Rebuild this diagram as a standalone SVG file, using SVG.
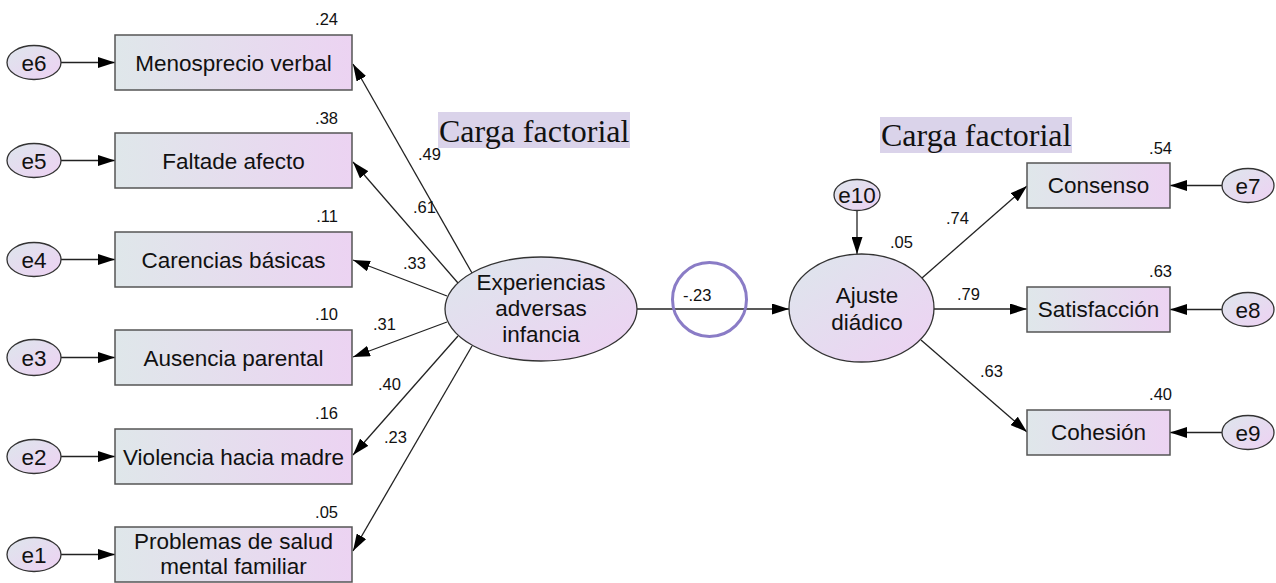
<svg xmlns="http://www.w3.org/2000/svg" width="1276" height="583" viewBox="0 0 1276 583">
<defs>
<linearGradient id="gBox" x1="0" y1="0" x2="1" y2="0">
<stop offset="0" stop-color="#dfe7ea"/>
<stop offset="1" stop-color="#ecd3f2"/>
</linearGradient>
<linearGradient id="gEll" x1="0" y1="0" x2="1" y2="1">
<stop offset="0" stop-color="#dde6ec"/>
<stop offset="1" stop-color="#eed1f3"/>
</linearGradient>
<marker id="arr" markerUnits="userSpaceOnUse" markerWidth="18" markerHeight="11" refX="17" refY="5.5" orient="auto">
<path d="M0,0 L17,5.5 L0,11 z" fill="#000"/>
</marker>
<style>
.box{fill:url(#gBox);stroke:#555;stroke-width:1.5}
.ell{fill:url(#gEll);stroke:#333;stroke-width:1.3}
.lbl{font-family:"Liberation Sans",Arial,sans-serif;font-size:22.5px;fill:#111;text-anchor:middle}
.num{font-family:"Liberation Sans",Arial,sans-serif;font-size:16.5px;fill:#111}
.con line{stroke:#222;stroke-width:1.3;marker-end:url(#arr)}
.cf{font-family:"Liberation Serif","Times New Roman",serif;font-size:32px;fill:#111}
</style>
</defs>
<rect width="1276" height="583" fill="#fff"/>

<g id="connectors" class="con">
<line x1="61" y1="62.5" x2="115" y2="62.5"/>
<line x1="61" y1="160.5" x2="115" y2="160.5"/>
<line x1="61" y1="259.5" x2="115" y2="259.5"/>
<line x1="61" y1="357.5" x2="115" y2="357.5"/>
<line x1="61" y1="456.5" x2="115" y2="456.5"/>
<line x1="61" y1="554.5" x2="115" y2="554.5"/>
<line x1="472" y1="273" x2="353" y2="64"/>
<line x1="458" y1="283" x2="353" y2="162"/>
<line x1="447" y1="296" x2="353" y2="260"/>
<line x1="447" y1="322" x2="353" y2="357"/>
<line x1="458" y1="336" x2="353" y2="455"/>
<line x1="472" y1="346" x2="353" y2="551"/>
<line x1="637" y1="309" x2="789" y2="309"/>
<line x1="857" y1="210" x2="857" y2="254"/>
<line x1="922" y1="278" x2="1027" y2="186"/>
<line x1="933" y1="309" x2="1027" y2="309"/>
<line x1="921" y1="340" x2="1027" y2="432"/>
<line x1="1222" y1="185.5" x2="1170" y2="185.5"/>
<line x1="1222" y1="309.5" x2="1170" y2="309.5"/>
<line x1="1222" y1="432.5" x2="1170" y2="432.5"/>
</g>

<g id="labels-paths" class="num">
<text x="418" y="160">.49</text>
<text x="413" y="213">.61</text>
<text x="403" y="269">.33</text>
<text x="373" y="330">.31</text>
<text x="378" y="390">.40</text>
<text x="384" y="443">.23</text>
<text x="683" y="301">-.23</text>
<text x="946" y="224">.74</text>
<text x="957" y="300">.79</text>
<text x="980" y="377">.63</text>
</g>

<circle id="highlight" cx="709.5" cy="299.5" r="37" fill="none" stroke="#8a7cc6" stroke-width="3"/>

<g id="carga-left">
<rect x="438" y="112" width="192" height="36" fill="#dad3ea"/>
<text class="cf" x="439" y="142">Carga factorial</text>
</g>
<g id="carga-right">
<rect x="880" y="117" width="192" height="36" fill="#dad3ea"/>
<text class="cf" x="881" y="146">Carga factorial</text>
</g>

<g id="e6"><ellipse class="ell" cx="34" cy="62.5" rx="27" ry="17"/><text class="lbl" x="34" y="70.5">e6</text></g>
<g id="e5"><ellipse class="ell" cx="34" cy="160.5" rx="27" ry="17"/><text class="lbl" x="34" y="168.5">e5</text></g>
<g id="e4"><ellipse class="ell" cx="34" cy="259.5" rx="27" ry="17"/><text class="lbl" x="34" y="267.5">e4</text></g>
<g id="e3"><ellipse class="ell" cx="34" cy="357.5" rx="27" ry="18"/><text class="lbl" x="34" y="365.5">e3</text></g>
<g id="e2"><ellipse class="ell" cx="34" cy="456.5" rx="27" ry="17"/><text class="lbl" x="34" y="464.5">e2</text></g>
<g id="e1"><ellipse class="ell" cx="34" cy="554.5" rx="27" ry="17"/><text class="lbl" x="34" y="562.5">e1</text></g>

<g id="menosprecio"><rect class="box" x="115" y="35" width="237" height="55"/><text class="lbl" x="233.5" y="71">Menosprecio verbal</text><text class="num" x="338" y="25" text-anchor="end">.24</text></g>
<g id="falta"><rect class="box" x="115" y="133" width="237" height="55"/><text class="lbl" x="233.5" y="169">Faltade afecto</text><text class="num" x="338" y="124" text-anchor="end">.38</text></g>
<g id="carencias"><rect class="box" x="115" y="232" width="237" height="55"/><text class="lbl" x="233.5" y="268">Carencias básicas</text><text class="num" x="338" y="222" text-anchor="end">.11</text></g>
<g id="ausencia"><rect class="box" x="115" y="330" width="237" height="55"/><text class="lbl" x="233.5" y="366">Ausencia parental</text><text class="num" x="338" y="320" text-anchor="end">.10</text></g>
<g id="violencia"><rect class="box" x="115" y="429" width="237" height="55"/><text class="lbl" x="233.5" y="465">Violencia hacia madre</text><text class="num" x="338" y="419" text-anchor="end">.16</text></g>
<g id="problemas"><rect class="box" x="115" y="527" width="237" height="55"/><text class="lbl" x="233.5" y="549">Problemas de salud</text><text class="lbl" x="233.5" y="574">mental familiar</text><text class="num" x="338" y="518" text-anchor="end">.05</text></g>

<g id="experiencias"><ellipse class="ell" cx="541" cy="309" rx="96" ry="52"/><text class="lbl" x="541" y="290">Experiencias</text><text class="lbl" x="541" y="316">adversas</text><text class="lbl" x="541" y="342">infancia</text></g>

<g id="e10"><ellipse class="ell" cx="857" cy="195" rx="23" ry="15.5"/><text class="lbl" x="857" y="203">e10</text></g>
<g id="ajuste"><ellipse class="ell" cx="861.5" cy="308" rx="72.5" ry="54"/><text class="lbl" x="867" y="303">Ajuste</text><text class="lbl" x="867" y="330">diádico</text><text class="num" x="890" y="248">.05</text></g>

<g id="consenso"><rect class="box" x="1027" y="163" width="143" height="45"/><text class="lbl" x="1098.5" y="193">Consenso</text><text class="num" x="1172" y="154" text-anchor="end">.54</text></g>
<g id="satisfaccion"><rect class="box" x="1027" y="287" width="143" height="45"/><text class="lbl" x="1098.5" y="317">Satisfacción</text><text class="num" x="1172" y="277" text-anchor="end">.63</text></g>
<g id="cohesion"><rect class="box" x="1027" y="410" width="143" height="45"/><text class="lbl" x="1098.5" y="440">Cohesión</text><text class="num" x="1172" y="400" text-anchor="end">.40</text></g>

<g id="e7"><ellipse class="ell" cx="1248" cy="185.5" rx="26" ry="17"/><text class="lbl" x="1248" y="193.5">e7</text></g>
<g id="e8"><ellipse class="ell" cx="1248" cy="309.5" rx="26" ry="17"/><text class="lbl" x="1248" y="317.5">e8</text></g>
<g id="e9"><ellipse class="ell" cx="1248" cy="432.5" rx="26" ry="17"/><text class="lbl" x="1248" y="440.5">e9</text></g>
</svg>
